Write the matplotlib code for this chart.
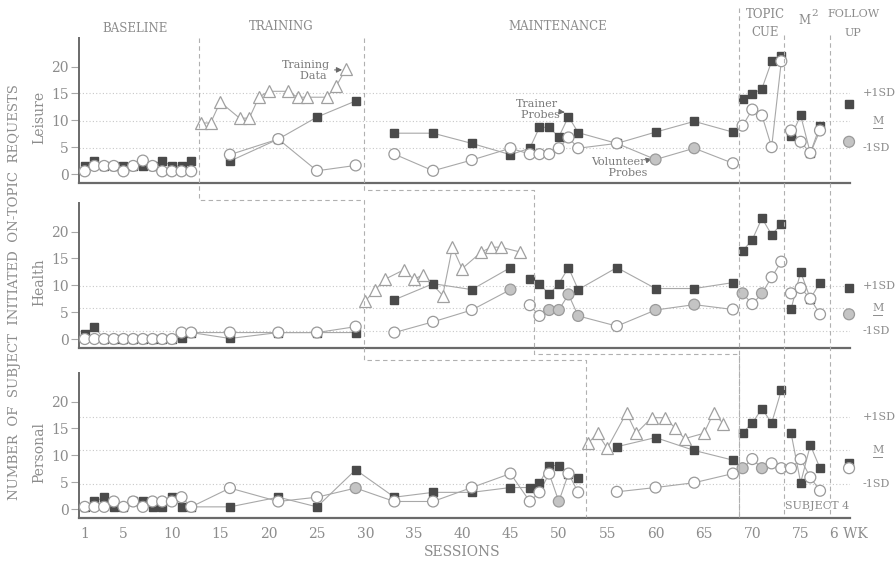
# multiple baseline chart - subject 4
import matplotlib
matplotlib.use("Agg")
import matplotlib.pyplot as plt
from matplotlib.lines import Line2D
from matplotlib.transforms import blended_transform_factory

plt.rcParams["font.family"] = ["DejaVu Serif", "DejaVu Sans"]

# probe sessions (same for every topic); 80 = 6 week follow up
probe_sessions = [1, 2, 3, 4, 5, 6, 7, 8, 9, 10, 11, 12,
                  16, 21, 25, 29,
                  33, 37, 41, 45,
                  47, 48, 49, 50, 51, 52,
                  56, 60, 64, 68,
                  69, 70, 71, 72, 73,
                  74, 75, 76, 77,
                  80]

# Leisure
leisure_trainer = [1.5, 2.5, 1.5, 1.5, 1.5, 1.5, 1.5, 1.5, 2.5, 1.5, 1.5, 2.5,
                   2.4, 6.5, 10.6, 13.6,
                   7.6, 7.6, 5.7, 3.6,
                   4.8, 8.7, 8.7, 6.9, 10.7, 7.7,
                   5.7, 7.8, 9.8, 7.8,
                   14.0, 14.9, 15.9, 21.0, 22.0,
                   7.0, 10.9, 3.9, 9.0,
                   13.0]
leisure_volunteer = [0.5, 1.5, 1.5, 1.5, 0.5, 1.5, 2.5, 1.5, 0.5, 0.5, 0.5, 0.5,
                     3.6, 6.5, 0.6, 1.6,
                     3.7, 0.6, 2.6, 4.8,
                     3.7, 3.7, 3.7, 4.8, 6.8, 4.8,
                     5.7, 2.7, 4.8, 2.0,
                     9.0, 12.0, 10.9, 5.0, 21.0,
                     8.1, 6.0, 3.9, 8.1,
                     6.0]
leisure_train_x = [13, 14, 15, 17, 18, 19, 20, 22, 23, 24, 26, 27, 28]
leisure_train_y = [9.5, 9.5, 13.4, 10.4, 10.4, 14.3, 15.4, 15.4, 14.3, 14.3, 14.3, 16.4, 19.6]
leisure_shaded = [60, 64, 80]
leisure_sd = [15.1, 9.9, 4.9]  # +1SD, M, -1SD

# Health
health_trainer = [1.0, 2.2, 0, 0, 0, 0, 0, 0, 0, 0, 0.1, 1.2,
                  0.1, 1.2, 1.2, 1.2,
                  7.3, 10.3, 9.2, 13.3,
                  11.2, 10.3, 8.3, 10.3, 13.3, 9.2,
                  13.3, 9.4, 9.4, 10.5,
                  16.4, 18.5, 22.5, 19.4, 21.4,
                  5.5, 12.5, 7.5, 10.5,
                  9.5]
health_volunteer = [0, 0, 0, 0, 0, 0, 0, 0, 0, 0, 1.2, 1.2,
                    1.2, 1.2, 1.2, 2.3,
                    1.2, 3.2, 5.4, 9.2,
                    6.3, 4.3, 5.4, 5.4, 8.3, 4.3,
                    2.4, 5.4, 6.4, 5.5,
                    8.5, 6.5, 8.5, 11.5, 14.4,
                    8.5, 9.5, 7.5, 4.6,
                    4.6]
health_train_x = [30, 31, 32, 34, 35, 36, 38, 39, 40, 42, 43, 44, 46]
health_train_y = [7.1, 9.1, 11.1, 12.9, 11.1, 12.0, 8.1, 17.1, 13.1, 16.2, 17.1, 17.1, 16.2]
health_shaded = [45, 49, 50, 51, 52, 60, 64, 69, 71, 80]
health_sd = [9.8, 5.7, 1.5]

# Personal
personal_trainer = [0.4, 1.4, 2.2, 0.4, 0.4, 1.4, 1.4, 0.4, 0.4, 2.2, 0.4, 0.4,
                    0.4, 2.2, 0.4, 7.3,
                    2.2, 3.1, 3.1, 4.0,
                    4.0, 4.8, 8.1, 8.1, 6.6, 5.7,
                    11.6, 13.3, 10.9, 9.1,
                    14.2, 16.0, 18.7, 16.0, 22.1,
                    14.2, 4.9, 11.9, 7.6,
                    8.5]
personal_volunteer = [0.4, 0.4, 0.4, 1.4, 0.4, 1.4, 0.4, 1.4, 1.4, 1.4, 2.2, 0.4,
                      3.9, 1.4, 2.2, 3.9,
                      1.4, 1.4, 4.0, 6.6,
                      1.4, 3.1, 6.6, 1.4, 6.6, 3.1,
                      3.2, 4.0, 4.9, 6.6,
                      7.6, 9.3, 7.6, 8.5, 7.6,
                      7.6, 9.3, 5.9, 3.4,
                      7.6]
personal_train_x = [53, 54, 55, 57, 58, 59.6, 61, 62, 63, 65, 66, 67]
personal_train_y = [12.2, 14.1, 11.3, 17.9, 14.1, 17.0, 17.0, 15.1, 13.1, 14.1, 17.9, 15.9]
personal_shaded = [29, 50, 69, 71]
personal_sd = [17.2, 10.9, 4.6]

# phase changes (in sessions)
leisure_phases = [12.8, 29.9, 68.6, 73.3, 78.0]
health_phases = [29.9, 46.7, 68.6, 73.3, 78.0]
personal_phases = [52.8, 68.6, 73.3, 78.0]

x_ticks = [1, 5, 10, 15, 20, 25, 30, 35, 40, 45, 50, 55, 60, 65, 70, 75, 80]
x_labels = ["1", "5", "10", "15", "20", "25", "30", "35", "40", "45", "50",
            "55", "60", "65", "70", "75", "6 WK"]

TXT = "#8c8c8c"
LINE = "#a8a8a8"
SQ = "#4a4a4a"
W, H = 896, 564


def split(xs, ys, breaks):
    segs, cur = [], ([], [])
    for x, y in zip(xs, ys):
        if cur[0] and any(cur[0][-1] < b < x for b in breaks):
            segs.append(cur)
            cur = ([], [])
        cur[0].append(x)
        cur[1].append(y)
    segs.append(cur)
    return segs


fig = plt.figure(figsize=(W / 100, H / 100), dpi=100)

panels = [
    ("Leisure", leisure_trainer, leisure_volunteer, leisure_train_x, leisure_train_y,
     leisure_shaded, leisure_sd, leisure_phases, 182.6),
    ("Health", health_trainer, health_volunteer, health_train_x, health_train_y,
     health_shaded, health_sd, health_phases, 347.6),
    ("Personal", personal_trainer, personal_volunteer, personal_train_x, personal_train_y,
     personal_shaded, personal_sd, personal_phases, 517.6),
]

axes = []
for i, (name, trn, vol, tx, ty, shaded, sd, phases, bottom_px) in enumerate(panels):
    ax = fig.add_axes([79 / W, 1 - bottom_px / H, 771 / W, 145 / H])
    axes.append(ax)
    ax.set_xlim(0.4, 80.1)
    ax.set_ylim(-1.6, 25.4)
    for s in ("top", "right"):
        ax.spines[s].set_visible(False)
    ax.spines["left"].set_color("#6a6a6a")
    ax.spines["bottom"].set_color("#6a6a6a")
    ax.spines["left"].set_linewidth(1.4)
    ax.spines["bottom"].set_linewidth(1.6)
    ax.set_yticks([0, 5, 10, 15, 20])
    ax.tick_params(axis="y", colors=LINE, labelcolor=TXT, labelsize=10,
                   length=6, width=0.8, pad=1.5)
    if i < 2:
        ax.set_xticks([])
    else:
        ax.set_xticks(x_ticks)
        ax.set_xticklabels(x_labels)
        ax.tick_params(axis="x", length=0, labelsize=10, labelcolor=TXT, pad=7)

    # mean / sd reference lines
    blend = blended_transform_factory(ax.transAxes, ax.transData)
    for v, lab in zip(sd, ["+1SD", "M", "-1SD"]):
        ax.axhline(v, color="#c8c8c8", lw=0.8, ls=(0, (1, 2)), zorder=1)
        if lab == "M":
            ax.text(1.036, v, lab, transform=blend, ha="center", va="center",
                    fontsize=8, color=TXT, clip_on=False)
            ax.plot([1.030, 1.042], [v - 1.3, v - 1.3], transform=blend,
                    color=TXT, lw=0.7, clip_on=False)
        else:
            ax.text(1.016, v, lab, transform=blend, ha="left", va="center",
                    fontsize=8, color=TXT, clip_on=False)

    # lines between probes, broken at phase changes
    for ys in (trn, vol):
        for sx, sy in split(probe_sessions, ys, phases):
            ax.plot(sx, sy, color=LINE, lw=0.8, zorder=2, clip_on=False)
    ax.plot(tx, ty, color=LINE, lw=0.8, zorder=2)

    ax.plot(probe_sessions, trn, ls="none", marker="s", ms=6.2, mfc=SQ, mec=SQ,
            zorder=3, clip_on=False)
    faces = ["#c4c4c4" if s in shaded else "white" for s in probe_sessions]
    ax.scatter(probe_sessions, vol, s=62, marker="o", facecolors=faces,
               edgecolors="#9a9a9a", linewidths=0.9, zorder=4, clip_on=False)
    ax.plot(tx, ty, ls="none", marker="^", ms=9, mfc="white", mec="#a0a0a0",
            mew=0.9, zorder=3)

    ax.text(-0.051, 10.5, name, rotation=90, ha="center", va="center",
            fontsize=10, color=TXT, transform=blend)

ax1, ax2, ax3 = axes

# annotations
ax1.annotate("Training\n    Data", xy=(27.6, 19.4), xytext=(23.9, 19.3),
             ha="center", va="center", fontsize=8, color="#7a7a7a",
             arrowprops=dict(arrowstyle="-|>", color="#6a6a6a", lw=0.8,
                             shrinkA=1, shrinkB=0, mutation_scale=8))
ax1.annotate("Trainer\n  Probes", xy=(50.6, 11.5), xytext=(47.7, 12.0),
             ha="center", va="center", fontsize=8, color="#7a7a7a",
             arrowprops=dict(arrowstyle="-|>", color="#6a6a6a", lw=0.8,
                             shrinkA=1, shrinkB=0, mutation_scale=8))
ax1.annotate("Volunteer\n     Probes", xy=(59.6, 2.8), xytext=(56.2, 1.2),
             ha="center", va="center", fontsize=8, color="#7a7a7a",
             arrowprops=dict(arrowstyle="-|>", color="#6a6a6a", lw=0.8,
                             shrinkA=1, shrinkB=0, mutation_scale=8))
ax3.text(73.4, 0.6, "SUBJECT 4", fontsize=8, color=TXT, ha="left", va="center")

# phase change lines across panels (y given in image pixels)
tr = blended_transform_factory(ax1.transData, fig.transFigure)
dash = dict(color="#b0b0b0", lw=0.8, ls=(0, (4, 3)), transform=tr)


def path(xs, pys):
    fig.add_artist(Line2D(xs, [1 - p / H for p in pys], **dash))


# baseline -> training staircase
path([12.8, 12.8, 29.9, 29.9, 52.8, 52.8], [38, 200, 200, 360, 360, 517])
# training -> maintenance staircase
path([29.9, 29.9, 47.4, 47.4, 68.6, 68.6], [38, 190, 190, 354, 354, 517])
path([68.6, 68.6], [8, 517])
path([73.3, 73.3], [35, 517])
path([78.0, 78.0], [35, 517])

# phase headers
hdr = dict(fontsize=8.5, color=TXT, ha="center", va="center")
fig.text(135 / W, 1 - 28 / H, "BASELINE", **hdr)
fig.text(281 / W, 1 - 27 / H, "TRAINING", **hdr)
fig.text(558 / W, 1 - 26 / H, "MAINTENANCE", **hdr)
fig.text(765 / W, 1 - 14 / H, "TOPIC", **hdr)
fig.text(765 / W, 1 - 33 / H, "CUE", **hdr)
fig.text(804 / W, 1 - 20 / H, "M", **hdr)
fig.text(815 / W, 1 - 13 / H, "2", fontsize=7.5, color=TXT, ha="center", va="center")
fig.text(853 / W, 1 - 14 / H, "FOLLOW", fontsize=8, color=TXT, ha="center", va="center")
fig.text(853 / W, 1 - 33 / H, "UP", fontsize=8, color=TXT, ha="center", va="center")

fig.text(15 / W, 1 - 292 / H, "NUMBER  OF  SUBJECT  INITIATED  ON-TOPIC  REQUESTS",
         rotation=90, ha="center", va="center", fontsize=9.5, color=TXT)
fig.text(462 / W, 1 - 552 / H, "SESSIONS", ha="center", va="center",
         fontsize=10, color=TXT)

fig.savefig("out.png", dpi=100)
